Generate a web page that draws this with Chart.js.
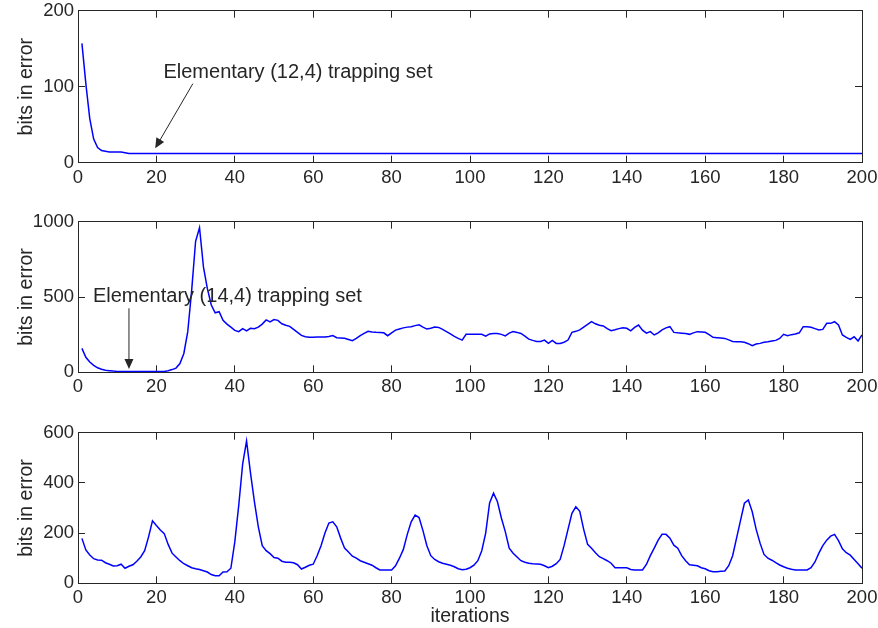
<!DOCTYPE html>
<html>
<head>
<meta charset="utf-8">
<script src="https://cdn.jsdelivr.net/npm/chart.js@4/dist/chart.umd.min.js"></script>
<style>
html,body{margin:0;padding:0;background:#fff;width:878px;height:628px;overflow:hidden}
canvas{position:absolute;left:0}
</style>
</head>
<body>
<canvas id="c1" width="878" height="200" style="top:0"></canvas>
<canvas id="c2" width="878" height="205" style="top:200px"></canvas>
<canvas id="c3" width="878" height="223" style="top:405px"></canvas>
<script>
// bits in error per iteration
const xTicks = [0,20,40,60,80,100,120,140,160,180,200];
const yTicksTop = [0,100,200];
const yTicksMid = [0,500,1000];
const yTicksBot = [0,200,400,600];

const errTop = [
  157,104,58,31,20,16,15,14,14,14,14,13,12,12,12,12,12,12,12,12,
  12,12,12,12,12,12,12,12,12,12,12,12,12,12,12,12,12,12,12,12,
  12,12,12,12,12,12,12,12,12,12,12,12,12,12,12,12,12,12,12,12,
  12,12,12,12,12,12,12,12,12,12,12,12,12,12,12,12,12,12,12,12,
  12,12,12,12,12,12,12,12,12,12,12,12,12,12,12,12,12,12,12,12,
  12,12,12,12,12,12,12,12,12,12,12,12,12,12,12,12,12,12,12,12,
  12,12,12,12,12,12,12,12,12,12,12,12,12,12,12,12,12,12,12,12,
  12,12,12,12,12,12,12,12,12,12,12,12,12,12,12,12,12,12,12,12,
  12,12,12,12,12,12,12,12,12,12,12,12,12,12,12,12,12,12,12,12,
  12,12,12,12,12,12,12,12,12,12,12,12,12,12,12,12,12,12,12,12
];
const errMid = [
  159,100,68,46,30,20,14,11,8,6,6,6,6,6,6,6,6,6,6,6,
  6,6,10,18,28,58,125,270,545,870,960,700,555,447,395,402,345,320,300,278,
  270,290,275,292,290,300,320,348,335,350,345,322,312,305,285,265,245,236,232,233,
  234,234,235,238,244,230,228,226,218,210,225,243,258,272,268,266,265,262,243,262,
  280,288,295,300,303,310,315,300,287,292,300,298,285,270,255,238,225,214,252,252,
  252,252,252,240,255,258,258,252,242,260,270,265,258,240,220,212,205,205,214,192,
  212,192,192,200,214,265,272,282,300,318,336,322,312,308,290,276,282,290,296,292,
  275,298,314,280,260,270,248,262,282,295,303,265,262,260,258,252,262,270,268,266,
  250,232,230,228,225,215,205,203,203,200,190,177,188,192,200,203,208,212,225,252,
  243,250,255,262,303,302,299,290,281,285,325,325,336,314,248,232,218,236,208,248
];
const errBot = [
  179,133,113,98,93,92,82,76,69,70,76,60,68,74,88,105,130,185,249,230,
  212,198,155,120,105,90,78,70,62,58,55,50,45,35,30,30,45,46,60,165,
  310,475,567,440,325,225,150,130,118,103,100,88,84,84,82,74,57,64,72,76,
  110,150,200,240,245,225,180,140,125,108,100,90,84,78,72,62,53,53,53,53,
  70,100,135,195,245,272,262,210,150,110,95,86,80,76,72,66,58,54,56,62,
  72,90,130,200,320,359,325,260,206,140,120,105,90,84,80,78,77,76,70,62,
  68,78,95,150,215,279,305,287,215,155,140,122,106,98,90,80,62,62,62,62,
  55,53,53,53,75,110,140,172,195,195,180,152,140,110,90,74,72,70,62,58,
  50,46,46,48,49,70,110,180,250,319,332,285,215,160,115,100,92,82,73,66,
  60,56,53,53,53,53,62,85,120,150,172,188,195,170,137,122,112,95,78,60
];

// annotations, in data coordinates
const noteTop = {text:'Elementary (12,4) trapping set', tx:21.8, ty:119, from:[29.3,104], to:[19.7,19]};
const noteMid = {text:'Elementary (14,4) trapping set', tx:3.8, ty:502, from:[13,425], to:[13,22]};

const FONT = '"Liberation Sans", Arial, Helvetica, sans-serif';
const INK = '#262626';

const notePlugin = {
  id:'note',
  afterDatasetsDraw(chart){
    const n = chart.options.plugins.note;
    if(!n || !n.text) return;
    const sx = chart.scales.x, sy = chart.scales.y, ctx = chart.ctx;
    ctx.save();
    ctx.fillStyle = INK; ctx.strokeStyle = INK; ctx.lineWidth = 1;
    ctx.font = '20px ' + FONT;
    ctx.textBaseline = 'middle'; ctx.textAlign = 'left';
    ctx.fillText(n.text, sx.getPixelForValue(n.tx), sy.getPixelForValue(n.ty));
    const x1 = sx.getPixelForValue(n.from[0]), y1 = sy.getPixelForValue(n.from[1]);
    const x2 = sx.getPixelForValue(n.to[0]), y2 = sy.getPixelForValue(n.to[1]);
    const a = Math.atan2(y2-y1, x2-x1), L = 10, W = 4.5;
    ctx.beginPath(); ctx.moveTo(x1,y1); ctx.lineTo(x2 - Math.cos(a)*L*0.6, y2 - Math.sin(a)*L*0.6); ctx.stroke();
    ctx.beginPath();
    ctx.moveTo(x2,y2);
    ctx.lineTo(x2 - Math.cos(a)*L + Math.sin(a)*W, y2 - Math.sin(a)*L - Math.cos(a)*W);
    ctx.lineTo(x2 - Math.cos(a)*L - Math.sin(a)*W, y2 - Math.sin(a)*L + Math.cos(a)*W);
    ctx.closePath(); ctx.fill();
    ctx.restore();
  }
};

function panel(id, values, yMax, yTicks, pad, xh, note, xTitle){
  const tickFont = {family:FONT, size:18.5};
  const titleFont = {family:FONT, size:19.5};
  const setX = s => { s.ticks = xTicks.map(v=>({value:v})); };
  const setY = s => { s.ticks = yTicks.map(v=>({value:v})); };
  // keep the plot box exactly where the layout padding puts it
  const fitX = h => s => { s.height = h; s.paddingLeft = 0; s.paddingRight = 0; };
  const fitY = w => s => { s.width = w; s.paddingTop = 0; s.paddingBottom = 0; };
  const grid = {drawOnChartArea:false, tickLength:-7, color:INK, lineWidth:1};
  const border = {display:true, color:INK, width:1};
  const plain = v => String(v);
  return new Chart(document.getElementById(id), {
    type:'line',
    data:{datasets:[{
      data: values.map((v,i)=>({x:i+1, y:v})),
      xAxisID:'x', yAxisID:'y',
      borderColor:'#0000ff', borderWidth:1.5, pointRadius:0, tension:0, fill:false
    }]},
    options:{
      responsive:false, animation:false, events:[],
      layout:{padding:{top:pad[0], bottom:pad[1], left:0, right:16}},
      plugins:{legend:{display:false}, tooltip:{enabled:false}, note:note},
      scales:{
        x:{type:'linear', axis:'x', position:'bottom', min:0, max:200,
           afterBuildTicks:setX, afterFit:fitX(xh),
           ticks:{font:tickFont, color:INK, padding:11, maxRotation:0, autoSkip:false, callback:plain},
           grid, border,
           title:{display:!!xTitle, text:xTitle||'', color:INK, font:titleFont, padding:{top:0,bottom:0}}},
        x2:{type:'linear', axis:'x', position:'top', min:0, max:200,
           afterBuildTicks:setX, afterFit:fitX(0),
           ticks:{display:false}, grid, border},
        y:{type:'linear', axis:'y', position:'left', min:0, max:yMax,
           afterBuildTicks:setY, afterFit:fitY(78),
           ticks:{font:tickFont, color:INK, padding:11, callback:plain},
           grid, border,
           title:{display:true, text:'bits in error', color:INK, font:titleFont, padding:{top:15,bottom:0}}},
        y2:{type:'linear', axis:'y', position:'right', min:0, max:yMax,
           afterBuildTicks:setY, afterFit:fitY(0),
           ticks:{display:false}, grid, border}
      }
    },
    plugins:[notePlugin]
  });
}

panel('c1', errTop, 200, yTicksTop, [10.7, 7.3], 30, noteTop);
panel('c2', errMid, 1000, yTicksMid, [21.7, 2.7], 30, noteMid);
panel('c3', errBot, 600, yTicksBot, [27.7, 0], 44.7, null, 'iterations');
</script>
</body>
</html>
